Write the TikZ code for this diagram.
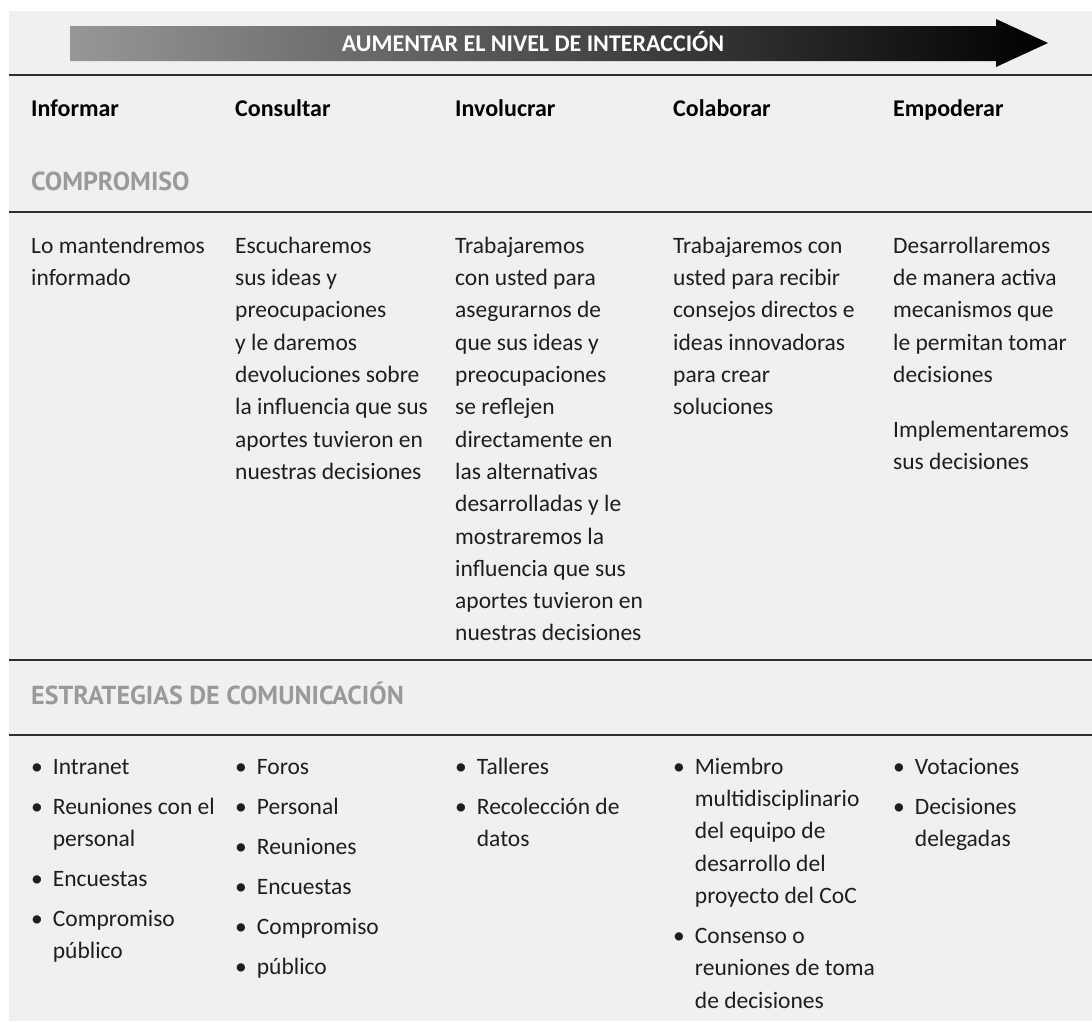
\documentclass[tikz,border=0pt]{standalone}
\usepackage{fontspec}
\setmainfont{Carlito}
\newfontfamily\headfont{PT Sans}
\usetikzlibrary{positioning}
\definecolor{panelgrey}{HTML}{F0F0F0}
\definecolor{rulegrey}{HTML}{2E2E2E}
\definecolor{titlegrey}{HTML}{9A9A9C}
\definecolor{arrowgrey}{HTML}{969799}
\definecolor{textblack}{HTML}{1E1E1E}
\newcommand{\celltab}[1]{\begin{tabular}[t]{@{}l@{}}#1\end{tabular}}
\newcommand{\listtab}[1]{\begin{tabular}[t]{@{}l@{\hspace{10pt}}l@{}}#1\end{tabular}}
\tikzset{%
	colhead/.style = {anchor=base west, inner sep=0pt, text=black, font=\bfseries\fontsize{24}{30}\selectfont}, % column titles
	cell/.style    = {anchor=base west, inner sep=0pt, text=textblack, font=\fontsize{23.5}{32.3}\selectfont}, % table text
	section/.style = {anchor=base west, inner sep=0pt, text=titlegrey, font=\headfont\bfseries\fontsize{26}{30}\selectfont}, % grey headings
	rule/.style    = {draw=rulegrey, line width=1.3pt},
	banner/.style  = {anchor=base, inner sep=0pt, text=white, font=\bfseries\fontsize{24}{28}\selectfont},
}

\begin{document}
\begin{tikzpicture}[x=1pt, y=-1pt]
	\useasboundingbox (0,0) rectangle (1092,1021);
	\fill[panelgrey] (9,11) rectangle (1092,1021);
	% arrow on top
	\shade[left color=arrowgrey, right color=black] (70,26) -- (996,26) -- (996,19) -- (1048,43) -- (996,67) -- (996,61) -- (70,61) -- cycle;
	\node[banner] (banner) at (533,51.2) {AUMENTAR EL NIVEL DE INTERACCIÓN};
	\draw[rule] (9,75) -- (1092,75);
	% column titles
	\node[colhead] (informar) at (31,116.7) {Informar};
	\node[colhead] (consultar) at (235,116.7) {Consultar};
	\node[colhead] (involucrar) at (455,116.7) {Involucrar};
	\node[colhead] (colaborar) at (673,116.7) {Colaborar};
	\node[colhead] (empoderar) at (893,116.7) {Empoderar};
	% compromiso
	\node[section] (compromiso) at (31,190.7) {COMPROMISO};
	\draw[rule] (9,212) -- (1092,212);
	\node[cell] (c1) at (31,253.3) {\celltab{Lo mantendremos\\ informado}};
	\node[cell] (c2) at (235,253.3) {\celltab{Escucharemos\\ sus ideas y\\ preocupaciones\\ y le daremos\\ devoluciones sobre\\ la influencia que sus\\ aportes tuvieron en\\ nuestras decisiones}};
	\node[cell] (c3) at (455,253.3) {\celltab{Trabajaremos\\ con usted para\\ asegurarnos de\\ que sus ideas y\\ preocupaciones\\ se reflejen\\ directamente en\\ las alternativas\\ desarrolladas y le\\ mostraremos la\\ influencia que sus\\ aportes tuvieron en\\ nuestras decisiones}};
	\node[cell] (c4) at (673,253.3) {\celltab{Trabajaremos con\\ usted para recibir\\ consejos directos e\\ ideas innovadoras\\ para crear\\ soluciones}};
	\node[cell] (c5) at (893,253.3) {\celltab{Desarrollaremos\\ de manera activa\\ mecanismos que\\ le permitan tomar\\ decisiones\\[22.7pt] Implementaremos\\ sus decisiones}};
	% estrategias
	\draw[rule] (9,660) -- (1092,660);
	\node[section] (estrategias) at (31,704.5) {ESTRATEGIAS DE COMUNICACIÓN};
	\draw[rule] (9,735) -- (1092,735);
	\node[cell] (e1) at (31,774.3) {\listtab{\textbullet & Intranet\\[7.7pt] \textbullet & Reuniones con el\\ & personal\\[7.7pt] \textbullet & Encuestas\\[7.7pt] \textbullet & Compromiso\\ & público}};
	\node[cell] (e2) at (235,774.3) {\listtab{\textbullet & Foros\\[7.7pt] \textbullet & Personal\\[7.7pt] \textbullet & Reuniones\\[7.7pt] \textbullet & Encuestas\\[7.7pt] \textbullet & Compromiso\\[7.7pt] \textbullet & público}};
	\node[cell] (e3) at (455,774.3) {\listtab{\textbullet & Talleres\\[7.7pt] \textbullet & Recolección de\\ & datos}};
	\node[cell] (e4) at (673,774.3) {\listtab{\textbullet & Miembro\\ & multidisciplinario\\ & del equipo de\\ & desarrollo del\\ & proyecto del CoC\\[7.7pt] \textbullet & Consenso o\\ & reuniones de toma\\ & de decisiones}};
	\node[cell] (e5) at (893,774.3) {\listtab{\textbullet & Votaciones\\[7.7pt] \textbullet & Decisiones\\ & delegadas}};
\end{tikzpicture}
\end{document}
